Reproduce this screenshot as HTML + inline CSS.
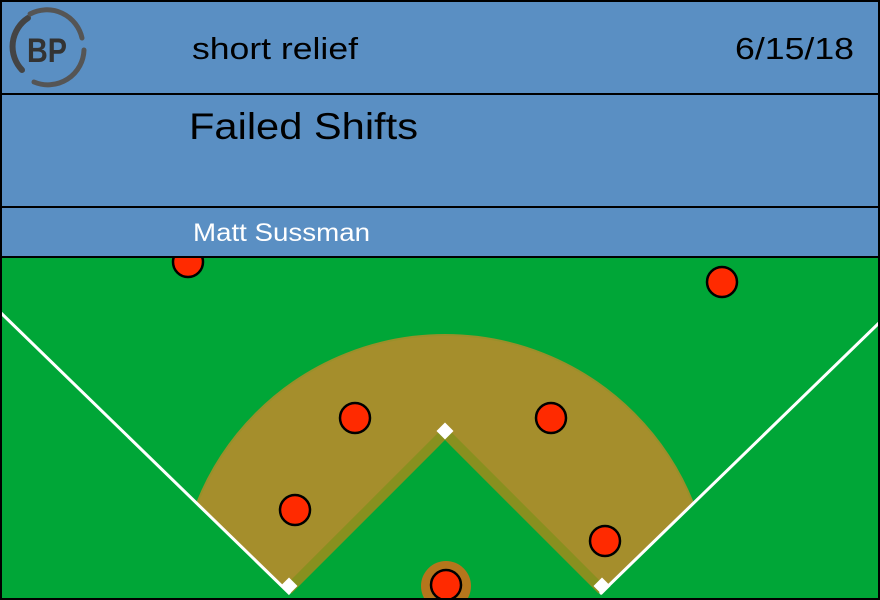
<!DOCTYPE html>
<html style="margin:0;width:880px;height:600px;overflow:hidden"><head><style>
body{margin:0;width:880px;height:600px;overflow:hidden;font-family:"Liberation Sans",sans-serif}
</style></head><body>
<svg width="880" height="600" xmlns="http://www.w3.org/2000/svg" style="display:block;position:absolute;top:0;left:0">
<rect x="0" y="0" width="880" height="600" fill="#00a637"/>
<defs><clipPath id="c"><polygon points="0,312 288,590 445,433 602,590 880,322 880,250 0,250"/></clipPath></defs>
<g clip-path="url(#c)">
<circle cx="445" cy="602" r="267" fill="#a58e2c" stroke="#98902a" stroke-width="2"/>
</g>
<polyline points="288,590 445,433 602,590" fill="none" stroke="#88901f" stroke-width="10"/>
<polygon points="293,600 445,440 597,600" fill="#00a637"/>
<line x1="0" y1="312" x2="290" y2="594" stroke="#fff" stroke-width="3"/>
<line x1="880" y1="322" x2="600" y2="594" stroke="#fff" stroke-width="3"/>
<circle cx="446" cy="586" r="25" fill="#b5761c"/>
<rect x="439" y="425" width="12" height="12" fill="#fff" transform="rotate(45 445 431)"/>
<rect x="283" y="580" width="12" height="12" fill="#fff" transform="rotate(45 289 586)"/>
<rect x="596" y="580" width="12" height="12" fill="#fff" transform="rotate(45 602 586)"/>
<g fill="#ff2a00" stroke="#000" stroke-width="2.5">
<circle cx="188" cy="262" r="15"/>
<circle cx="722" cy="282" r="15"/>
<circle cx="355" cy="418" r="15"/>
<circle cx="551" cy="418" r="15"/>
<circle cx="295" cy="510" r="15"/>
<circle cx="605" cy="541" r="15"/>
<circle cx="446" cy="585" r="15"/>
</g>
<rect x="1" y="1" width="878" height="256" fill="#5a8fc3"/>
<g stroke="#000" stroke-width="2">
<line x1="0" y1="94" x2="880" y2="94"/>
<line x1="0" y1="207" x2="880" y2="207"/>
<line x1="0" y1="257" x2="880" y2="257"/>
</g>
<rect x="1" y="1" width="878" height="598" fill="none" stroke="#000" stroke-width="2"/>
<path d="M22,70 A34,34 0 0 1 28,18" fill="none" stroke="#444" stroke-width="6" stroke-linecap="round"/>
<path d="M30,14 A36,36 0 0 1 82,38" fill="none" stroke="#555" stroke-width="5" stroke-linecap="round"/>
<path d="M84,50 A36,36 0 0 1 34,82" fill="none" stroke="#555" stroke-width="5" stroke-linecap="round"/>
<text x="27" y="62" font-size="34" font-weight="bold" fill="#333" textLength="40" lengthAdjust="spacingAndGlyphs">BP</text>
<text x="192" y="59" font-size="31" fill="#000" textLength="166" lengthAdjust="spacingAndGlyphs">short relief</text>
<text x="735" y="59" font-size="31" fill="#000" textLength="119" lengthAdjust="spacingAndGlyphs">6/15/18</text>
<text x="189" y="139" font-size="37" fill="#000" textLength="229" lengthAdjust="spacingAndGlyphs">Failed Shifts</text>
<text x="193" y="241" font-size="25" fill="#fff" textLength="177" lengthAdjust="spacingAndGlyphs">Matt Sussman</text>
</svg>
</body></html>
